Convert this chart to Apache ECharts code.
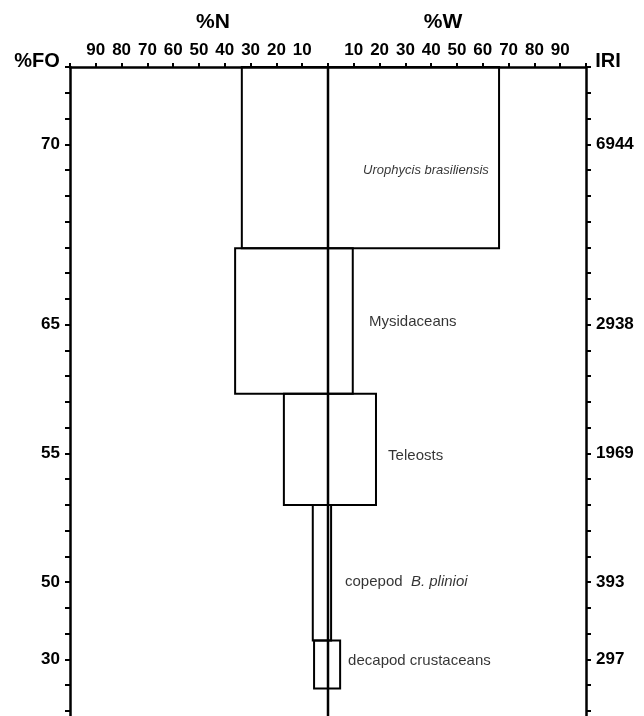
<!DOCTYPE html>
<html>
<head>
<meta charset="utf-8">
<script src="https://cdn.jsdelivr.net/npm/echarts@6/dist/echarts.min.js"></script>
<style>
  html, body { margin: 0; padding: 0; background: #fff; }
  #chart { width: 644px; height: 716px; }
</style>
</head>
<body>
<div id="chart"></div>
<script>
// prey items, top to bottom
const preyPlain = ["", "Mysidaceans", "Teleosts", "copepod", "decapod crustaceans"];
const preyItalic = ["Urophycis brasiliensis", "", "", "B. plinioi", ""];
const pctN = [33.4, 36, 17.1, 5.9, 5.4];
const pctW = [66.3, 9.6, 18.6, 1.2, 4.7];
// box heights along the vertical (%FO) scale
const boxHeight = [70.4, 56.5, 43.2, 52.6, 18.6];
// label anchors (left edge) in axis units
const labelX = [13.6, 15.9, 23.3, 6.6, 7.8];
const labelY = [40, 99, 151, 200, 230.5];
// side axis labels
const sideTicks = [30, 100, 150, 200, 230];
const foLabels = ["70", "65", "55", "50", "30"];
const iriLabels = ["6944", "2938", "1969", "393", "297"];

const FONT = "'Liberation Sans', Arial, sans-serif";
const Y_MAX = 252;

const boxes = [];
let boxTop = 0;
for (let i = 0; i < pctN.length; i++) {
  boxes.push([-pctN[i], pctW[i], boxTop, boxTop + boxHeight[i]]);
  boxTop += boxHeight[i];
}

const labelData = labelX.map((x, i) => {
  let text = preyPlain[i];
  if (preyItalic[i]) {
    const tag = i === 0 ? "big" : "it";
    text = text ? text + "  {" + tag + "|" + preyItalic[i] + "}" : "{" + tag + "|" + preyItalic[i] + "}";
  }
  return { value: [x, labelY[i]], text };
});

function sideFormatter(labels) {
  return v => {
    const idx = sideTicks.indexOf(Math.round(v));
    return idx >= 0 ? labels[idx] : "";
  };
}

const sideAxis = {
  type: "value",
  inverse: true,
  min: 0,
  max: Y_MAX,
  interval: 10,
  axisLine: { show: true, onZero: false, lineStyle: { color: "#000", width: 2.5 } },
  axisTick: { show: true, inside: false, length: 5, lineStyle: { color: "#000", width: 2 } },
  splitLine: { show: false },
  axisLabel: {
    color: "#000",
    fontFamily: FONT,
    fontWeight: "bold",
    fontSize: 17,
    margin: 10,
    showMaxLabel: false
  }
};

const chart = echarts.init(document.getElementById("chart"));

chart.setOption({
  animation: false,
  backgroundColor: "#fff",
  grid: { left: 70, top: 67, width: 516, height: Y_MAX * 2.585 },
  xAxis: {
    type: "value",
    position: "top",
    min: -100,
    max: 100,
    interval: 10,
    axisLine: { show: true, onZero: false, lineStyle: { color: "#000", width: 2.5 } },
    axisTick: { show: true, inside: false, length: 4, lineStyle: { color: "#000", width: 2 } },
    splitLine: { show: false },
    axisLabel: {
      color: "#000",
      fontFamily: FONT,
      fontWeight: "bold",
      fontSize: 17,
      margin: 8,
      formatter: v => (v === 0 || Math.abs(v) === 100 ? "" : String(Math.abs(v)))
    }
  },
  yAxis: [
    Object.assign({}, sideAxis, {
      position: "left",
      axisLabel: Object.assign({}, sideAxis.axisLabel, { formatter: sideFormatter(foLabels) })
    }),
    Object.assign({}, sideAxis, {
      position: "right",
      axisLabel: Object.assign({}, sideAxis.axisLabel, { formatter: sideFormatter(iriLabels) })
    })
  ],
  series: [
    {
      type: "custom",
      encode: { x: [0, 1], y: [2, 3] },
      data: boxes,
      silent: true,
      renderItem(params, api) {
        const p0 = api.coord([api.value(0), api.value(2)]);
        const p1 = api.coord([api.value(1), api.value(3)]);
        return {
          type: "rect",
          shape: { x: p0[0], y: p0[1], width: p1[0] - p0[0], height: p1[1] - p0[1] },
          style: { fill: "none", stroke: "#000", lineWidth: 2 }
        };
      }
    },
    {
      type: "line",
      symbol: "none",
      silent: true,
      lineStyle: { color: "#000", width: 2.5 },
      data: [[0, 0], [0, Y_MAX]]
    },
    {
      type: "scatter",
      symbolSize: 0,
      silent: true,
      data: labelData,
      label: {
        show: true,
        position: "right",
        distance: 0,
        color: "#000",
        fontFamily: FONT,
        fontSize: 15,
        formatter: p => p.data.text,
        rich: {
          it: { fontStyle: "italic", fontFamily: FONT, fontSize: 15, color: "#000" },
          big: { fontStyle: "italic", fontFamily: FONT, fontSize: 13, color: "#000" }
        }
      }
    }
  ],
  graphic: [
    { type: "text", x: 213, y: 22, style: { text: "%N", font: "bold 21px " + FONT, fill: "#000", textAlign: "center", textVerticalAlign: "middle" } },
    { type: "text", x: 443, y: 22, style: { text: "%W", font: "bold 21px " + FONT, fill: "#000", textAlign: "center", textVerticalAlign: "middle" } },
    { type: "text", x: 37, y: 61, style: { text: "%FO", font: "bold 20px " + FONT, fill: "#000", textAlign: "center", textVerticalAlign: "middle" } },
    { type: "text", x: 608, y: 61, style: { text: "IRI", font: "bold 20px " + FONT, fill: "#000", textAlign: "center", textVerticalAlign: "middle" } }
  ]
});
</script>
</body>
</html>
